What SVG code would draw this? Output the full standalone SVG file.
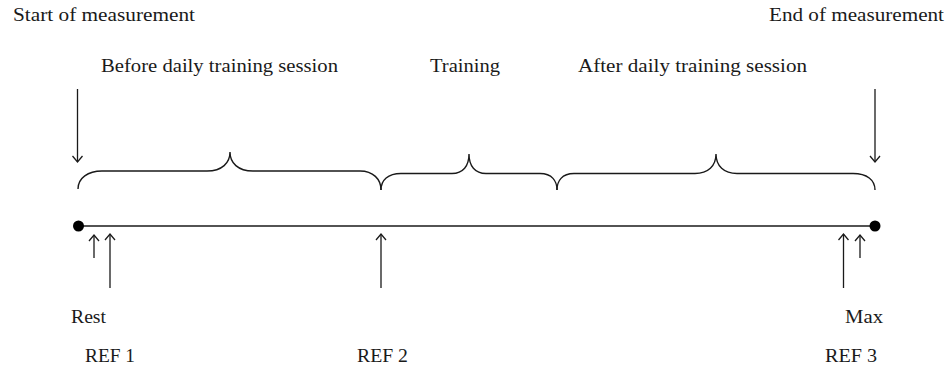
<svg xmlns="http://www.w3.org/2000/svg" width="947" height="370" viewBox="0 0 947 370">
<defs>
<style>
text{font-family:"Liberation Serif","Times New Roman",serif;font-size:19px;fill:#1a1a1a}
.ln{stroke:#1a1a1a;stroke-width:1.3;fill:none}
.br{stroke:#1a1a1a;stroke-width:1.4;fill:none}
</style>
<marker id="ah" markerUnits="userSpaceOnUse" markerWidth="14" markerHeight="14" refX="0" refY="0" viewBox="-8 -7 10 14" orient="auto">
<path d="M-6,-5 L0,0 L-6,5" fill="none" stroke="#1a1a1a" stroke-width="1.3"/>
</marker>
</defs>
<rect width="947" height="370" fill="#fff"/>
<g id="labels-top">
<text x="13" y="21" textLength="182" lengthAdjust="spacingAndGlyphs">Start of measurement</text>
<text x="769" y="21" textLength="175" lengthAdjust="spacingAndGlyphs">End of measurement</text>
<text x="101" y="72" textLength="237" lengthAdjust="spacingAndGlyphs">Before daily training session</text>
<text x="430" y="72" textLength="70" lengthAdjust="spacingAndGlyphs">Training</text>
<text x="578" y="72" textLength="229" lengthAdjust="spacingAndGlyphs">After daily training session</text>
</g>
<g id="connectors">
<line class="ln" x1="77.5" y1="89" x2="77.5" y2="162" marker-end="url(#ah)"/>
<line class="ln" x1="875" y1="89" x2="875" y2="162" marker-end="url(#ah)"/>
<line class="ln" x1="94" y1="258" x2="94" y2="235" marker-end="url(#ah)"/>
<line class="ln" x1="110" y1="288" x2="110" y2="234" marker-end="url(#ah)"/>
<line class="ln" x1="381" y1="288" x2="381" y2="234" marker-end="url(#ah)"/>
<line class="ln" x1="843.5" y1="288" x2="843.5" y2="234" marker-end="url(#ah)"/>
<line class="ln" x1="860" y1="258" x2="860" y2="235" marker-end="url(#ah)"/>
</g>
<g id="braces">
<path class="br" d="M78,189 C78,178 88,171 102,171 L207,171 C222,171 230,163 230,152 C230,163 238,171 253,171 L360,171 C373,171 381,179 381,190"/>
<path class="br" d="M381,190 C381,180 388,173.5 401,173.5 L452,173.5 C463,173.5 469,166 469,154 C469,166 475,173.5 486,173.5 L540,173.5 C552,173.5 557,181 557,190"/>
<path class="br" d="M557,190 C557,181 562,173.5 574,173.5 L695,173.5 C708,173.5 716,166 716,154 C716,166 724,173.5 737,173.5 L853,173.5 C867,173.5 875,180 875,190"/>
</g>
<g id="timeline">
<line x1="78" y1="226" x2="875" y2="226" stroke="#1a1a1a" stroke-width="1.6"/>
<circle cx="78.5" cy="226" r="5.5" fill="#000"/>
<circle cx="875" cy="226" r="5.5" fill="#000"/>
</g>
<g id="labels-bottom">
<text x="71" y="323" textLength="35" lengthAdjust="spacingAndGlyphs">Rest</text>
<text x="845" y="323" textLength="38" lengthAdjust="spacingAndGlyphs">Max</text>
<text x="85" y="362" textLength="50" lengthAdjust="spacingAndGlyphs">REF 1</text>
<text x="357" y="362" textLength="51" lengthAdjust="spacingAndGlyphs">REF 2</text>
<text x="825" y="362" textLength="52" lengthAdjust="spacingAndGlyphs">REF 3</text>
</g>
</svg>
